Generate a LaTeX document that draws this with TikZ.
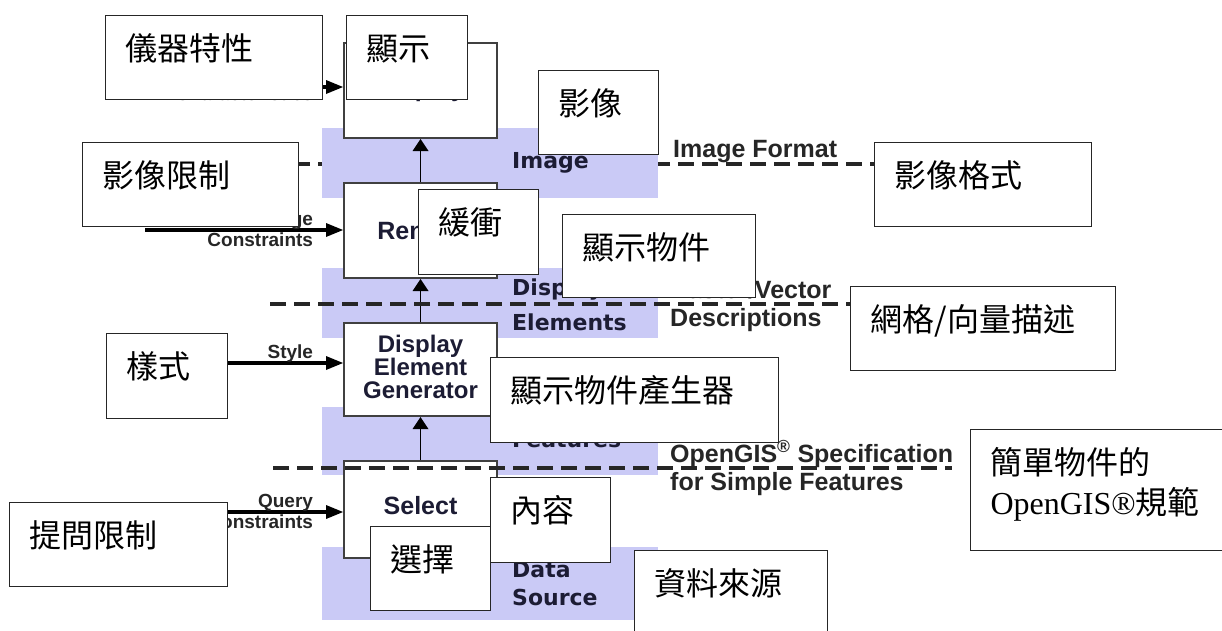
\documentclass[tikz,border=0pt]{standalone}
\usepackage{fontspec}
\setmainfont{Liberation Serif}
\newfontfamily\cjk{Noto Sans CJK TC}
\newfontfamily\arial{Liberation Sans}
\newfontfamily\verd{DejaVu Sans}
\usetikzlibrary{arrows.meta}
\definecolor{lavender}{RGB}{202,202,246}
\definecolor{ink}{RGB}{28,28,52}

\begin{document}
\begin{tikzpicture}[x=1pt, y=-1pt,
		stage/.style={draw=black!75, line width=2pt, fill=white, anchor=north west, minimum width=153pt, inner sep=0pt, align=center, text=ink, font=\arial\bfseries\fontsize{25}{23}\selectfont},
		feed/.style={line width=4pt, -{Triangle[length=17pt, width=14pt, line width=0pt]}},
		lift/.style={line width=1.5pt, -{Triangle[length=12pt, width=16pt, line width=0pt]}},
		border/.style={line width=4pt, dash pattern=on 16pt off 8pt, black!85},
		tag/.style={anchor=base east, inner sep=0pt, text=black!85, font=\arial\bfseries\fontsize{19}{22}\selectfont},
		layer/.style={anchor=base west, inner sep=0pt, text=ink, font=\verd\bfseries\fontsize{22}{26}\selectfont},
		spec/.style={anchor=base west, inner sep=0pt, text=black!85, font=\arial\bfseries\fontsize{25}{29}\selectfont},
		note/.style={draw=black!85, line width=1pt, fill=white, anchor=north west, inner xsep=20pt, inner ysep=0pt, text height=45pt, align=left, font=\cjk\fontsize{32}{40}\selectfont}]
	\useasboundingbox (0,0) rectangle (1222,630);
	
	\coordinate (fmtl) at (270,164);
	\coordinate (fmtr) at (874,164);
	\draw[border] (fmtl) -- (fmtr);
	
	% layers
	\foreach \ytop/\ybot in {128/198, 268/338, 407/475, 547/620}{
		\fill[lavender] (322,\ytop) rectangle (658,\ybot);
	}
	
	\node[stage, minimum height=95pt] (dispbox) at (343,42) {Display};
	\node[stage, minimum height=95pt] (rendbox) at (343,182) {Render};
	\node[stage, minimum height=93pt, text depth=5pt, font=\arial\bfseries\fontsize{24}{23}\selectfont] (genbox) at (343,322) {Display\\Element\\Generator};
	\node[stage, minimum height=97pt, text depth=8pt] (selbox) at (343,460) {Select};
	
	\draw[lift] (selbox.north) -- (genbox.south);
	\draw[lift] (genbox.north) -- (rendbox.south);
	\draw[lift] (rendbox.north) -- (dispbox.south);
	
	\coordinate (devsrc) at (190,87);
	\coordinate (imcsrc) at (145,230);
	\coordinate (stysrc) at (145,363);
	\coordinate (qrysrc) at (145,512);
	\draw[feed] (devsrc) -- (devsrc -| dispbox.west)
		node[tag, pos=1, xshift=-28pt, yshift=5pt] (devtop) {Device}
		node[tag, pos=1, xshift=-28pt, yshift=-13pt] (devbot) {Characteristics};
	\draw[feed] (imcsrc) -- (imcsrc -| rendbox.west)
		node[tag, pos=1, xshift=-28pt, yshift=5pt] (imctop) {Image}
		node[tag, pos=1, xshift=-28pt, yshift=-16pt] (imcbot) {Constraints};
	\draw[feed] (stysrc) -- (stysrc -| genbox.west)
		node[tag, pos=1, xshift=-28pt, yshift=5pt] (stytop) {Style};
	\draw[feed] (qrysrc) -- (qrysrc -| selbox.west)
		node[tag, pos=1, xshift=-28pt, yshift=5pt] (qrytop) {Query}
		node[tag, pos=1, xshift=-28pt, yshift=-16pt] (qrybot) {Constraints};
	
	\coordinate (del) at (270,304);
	\coordinate (der) at (850,304);
	\coordinate (ftl) at (273,468);
	\coordinate (ftr) at (952,468);
	\draw[border] (del) -- (der);
	\draw[border] (ftl) -- (ftr);
	
	\node[layer] (imglbl) at (512,168) {Image};
	\node[layer] (delbla) at (512,295) {Display};
	\node[layer] (dellblb) at (512,330) {Elements};
	\node[layer] (ftlbl) at (512,447) {Features};
	\node[layer] (srclbla) at (512,577) {Data};
	\node[layer] (srclblb) at (512,605) {Source};
	
	\node[spec] (fmtlbl) at (673,157) {Image Format};
	\node[spec] (rvlbla) at (670,298) {Raster/Vector};
	\node[spec] (rvlblb) at (670,326) {Descriptions};
	\node[spec] (ogclbla) at (670,462) {OpenGIS\textsuperscript{®} Specification};
	\node[spec] (ogclblb) at (670,490) {for Simple Features};
	
	% Chinese notes on top
	\node[note, text width=177pt, text depth=39pt] (devnote) at (105,15) {儀器特性};
	\node[note, text width=81pt, text depth=39pt] (disnote) at (346,15) {顯示};
	\node[note, text width=80pt, text depth=39pt] (imgnote) at (538,70) {影像};
	\node[note, text width=176pt, text depth=39pt] (imcnote) at (82,142) {影像限制};
	\node[note, text width=177pt, text depth=39pt] (fmtnote) at (874,142) {影像格式};
	\node[note, text width=80pt, text depth=40pt] (bufnote) at (418,189) {緩衝};
	\node[note, text width=153pt, text depth=38pt] (delnote) at (562,214) {顯示物件};
	\node[note, text width=225pt, text depth=39pt] (rvnote) at (850,286) {網格/向量描述};
	\node[note, text width=81pt, text depth=40pt] (stynote) at (106,333) {樣式};
	\node[note, text width=248pt, text depth=40pt] (gennote) at (490,357) {顯示物件產生器};
	\node[note, text width=220pt, text depth=76pt] (ogcnote) at (970,429) {簡單物件的\\{\rmfamily OpenGIS®}規範};
	\node[note, text width=178pt, text depth=39pt] (qrynote) at (9,502) {提問限制};
	\node[note, text width=80pt, text depth=40pt] (connote) at (490,477) {內容};
	\node[note, text width=80pt, text depth=39pt] (selnote) at (370,526) {選擇};
	\node[note, text width=153pt, text depth=39pt] (srcnote) at (634,550) {資料來源};
\end{tikzpicture}
\end{document}
